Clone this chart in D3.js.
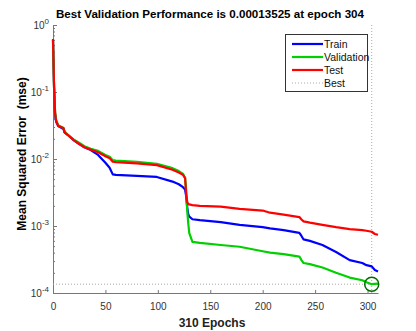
<!DOCTYPE html>
<html>
<head>
<meta charset="utf-8">
<script src="https://cdn.jsdelivr.net/npm/d3@7"></script>
<style>
  body { margin: 0; background: #fff; }
  svg { display: block; font-family: "Liberation Sans", Arial, sans-serif; }
</style>
</head>
<body>
<div id="viz"></div>
<script>
const epochs = [0, 1, 2, 3, 5, 10, 11, 14, 20, 24, 30, 36, 43, 50, 54, 57, 60, 80, 99, 114, 120, 124, 126, 127, 128, 129, 130, 133, 140, 160, 178, 200, 207, 220, 235, 237, 239, 245, 257, 270, 283, 295, 299, 304, 307, 310];

const train = [0.6, 0.12, 0.045, 0.036, 0.031, 0.028, 0.025, 0.023, 0.019, 0.0172, 0.015, 0.0136, 0.0115, 0.0088, 0.0074, 0.0059, 0.0058, 0.0056, 0.0054, 0.0046, 0.0042, 0.0038, 0.0035, 0.0028, 0.0019, 0.0015, 0.00138, 0.00126, 0.00122, 0.00114, 0.00104, 0.00096, 0.00092, 0.00087, 0.00079, 0.00071, 0.00063, 0.0006, 0.00052, 0.00041, 0.00031, 0.00028, 0.00026, 0.00025, 0.00022, 0.00021];

const validation = [0.6, 0.12, 0.05, 0.038, 0.032, 0.029, 0.026, 0.023, 0.0195, 0.0178, 0.0155, 0.0142, 0.0132, 0.0115, 0.0108, 0.0096, 0.0095, 0.0091, 0.0085, 0.0073, 0.0066, 0.006, 0.0052, 0.0035, 0.0017, 0.0011, 0.00078, 0.00058, 0.00056, 0.00052, 0.00049, 0.00042, 0.0004, 0.00038, 0.00035, 0.00031, 0.00028, 0.00027, 0.00024, 0.0002, 0.00017, 0.000155, 0.000145, 0.00013525, 0.000137, 0.000138];

const test = [0.62, 0.12, 0.048, 0.037, 0.031, 0.029, 0.025, 0.023, 0.019, 0.0172, 0.015, 0.0138, 0.0126, 0.011, 0.0103, 0.0091, 0.009, 0.0086, 0.0081, 0.0069, 0.0063, 0.0058, 0.0052, 0.003, 0.0023, 0.0021, 0.0021, 0.00205, 0.002, 0.00195, 0.0018, 0.0017, 0.00158, 0.00148, 0.00136, 0.00125, 0.00117, 0.00112, 0.00104, 0.00096, 0.0009, 0.00087, 0.00085, 0.00082, 0.00076, 0.00074];

const bestEpoch = 304,
    bestValue = 0.00013525,
    totalEpochs = 310;

const xTicks = [0, 50, 100, 150, 200, 250, 300],
    yTicks = [1e-4, 1e-3, 1e-2, 1e-1, 1],
    yExp = ['-4', '-3', '-2', '-1', '0'];

const seriesNames = ['Train', 'Validation', 'Test'],
    seriesColors = ['#0000ff', '#00d000', '#ff0000'];

const width = 416,
    height = 331,
    margin = {top: 25, right: 38, bottom: 38, left: 53};

const svg = d3.select('#viz')
    .append('svg')
    .attr('width', width)
    .attr('height', height);

const x = d3.scaleLinear()
    .domain([0, totalEpochs])
    .range([margin.left, width - margin.right]);

const y = d3.scaleLog()
    .domain([1e-4, 1])
    .range([height - margin.bottom, margin.top]);

// minor ticks on the log axis
const minor = [];
for (let e = -4; e < 0; e++) {
    for (let k = 2; k < 10; k++) minor.push(k * Math.pow(10, e));
}

const yMinor = svg.append('g')
    .attr('transform', 'translate(' + margin.left + ',0)')
    .call(d3.axisLeft(y).tickValues(minor).tickSize(-2).tickFormat(''));
yMinor.select('.domain').remove();
yMinor.selectAll('line').attr('stroke', '#777');

const yAxis = svg.append('g')
    .attr('transform', 'translate(' + margin.left + ',0)')
    .call(d3.axisLeft(y).tickValues(yTicks).tickSize(-4).tickSizeOuter(0).tickFormat(''));
yAxis.select('.domain').attr('stroke', '#777');
yAxis.selectAll('line').attr('stroke', '#777');

const xAxis = svg.append('g')
    .attr('transform', 'translate(0,' + (height - margin.bottom) + ')')
    .call(d3.axisBottom(x).tickValues(xTicks).tickSize(-3).tickSizeOuter(0).tickPadding(10));
xAxis.select('.domain').attr('stroke', '#777');
xAxis.selectAll('line').attr('stroke', '#777');
xAxis.selectAll('text')
    .attr('font-size', 10)
    .attr('fill', '#333')
    .attr('font-family', '"Liberation Sans", Arial, sans-serif');

// y tick labels 10^n
const yLab = svg.append('g');
yTicks.forEach(function(t, i) {
    const txt = yLab.append('text')
        .attr('x', margin.left - 4)
        .attr('y', y(t) + 4)
        .attr('text-anchor', 'end')
        .attr('font-size', 10)
        .attr('fill', '#333');
    txt.append('tspan').text('10');
    txt.append('tspan')
        .attr('dy', -5)
        .attr('font-size', 8)
        .text(yExp[i]);
});

// best lines
svg.append('line')
    .attr('x1', x(0)).attr('x2', x(totalEpochs))
    .attr('y1', y(bestValue)).attr('y2', y(bestValue))
    .attr('stroke', '#aaa')
    .attr('stroke-dasharray', '1,2');
svg.append('line')
    .attr('x1', x(bestEpoch)).attr('x2', x(bestEpoch))
    .attr('y1', y(1)).attr('y2', y(1e-4))
    .attr('stroke', '#aaa')
    .attr('stroke-dasharray', '1,2');

const line = d3.line()
    .x(function(d, i) { return x(epochs[i]); })
    .y(function(d) { return y(d); });

[train, validation, test].forEach(function(s, i) {
    svg.append('path')
        .datum(s)
        .attr('d', line)
        .attr('fill', 'none')
        .attr('stroke', seriesColors[i])
        .attr('stroke-width', 2.2)
        .attr('stroke-linejoin', 'round');
});

svg.append('circle')
    .attr('cx', x(bestEpoch))
    .attr('cy', y(bestValue))
    .attr('r', 7)
    .attr('fill', 'none')
    .attr('stroke', '#006a00')
    .attr('stroke-width', 1.5);

// legend
const lg = svg.append('g');
lg.append('rect')
    .attr('x', 285.5).attr('y', 34.5)
    .attr('width', 82).attr('height', 57)
    .attr('fill', '#fff')
    .attr('stroke', '#333');
seriesNames.concat(['Best']).forEach(function(n, i) {
    const ly = 44 + i * 13;
    lg.append('line')
        .attr('x1', 292).attr('x2', 323)
        .attr('y1', ly).attr('y2', ly)
        .attr('stroke', i < 3 ? seriesColors[i] : '#aaa')
        .attr('stroke-width', i < 3 ? 2.2 : 1)
        .attr('stroke-dasharray', i < 3 ? null : '1,2');
    lg.append('text')
        .attr('x', 324)
        .attr('y', ly + 4)
        .attr('font-size', 10.5)
        .attr('fill', '#111')
        .text(n);
});

// titles
svg.append('text')
    .attr('x', 210)
    .attr('y', 18)
    .attr('text-anchor', 'middle')
    .attr('font-weight', 'bold')
    .attr('font-size', 11.6)
    .text('Best Validation Performance is 0.00013525 at epoch 304');

svg.append('text')
    .attr('transform', 'translate(26,154) rotate(-90)')
    .attr('text-anchor', 'middle')
    .attr('font-weight', 'bold')
    .attr('font-size', 12)
    .style('white-space', 'pre')
    .text('Mean Squared Error  (mse)');

svg.append('text')
    .attr('x', 212)
    .attr('y', 327)
    .attr('text-anchor', 'middle')
    .attr('font-weight', 'bold')
    .attr('font-size', 12)
    .attr('fill', '#222')
    .text('310 Epochs');
</script>
</body>
</html>
